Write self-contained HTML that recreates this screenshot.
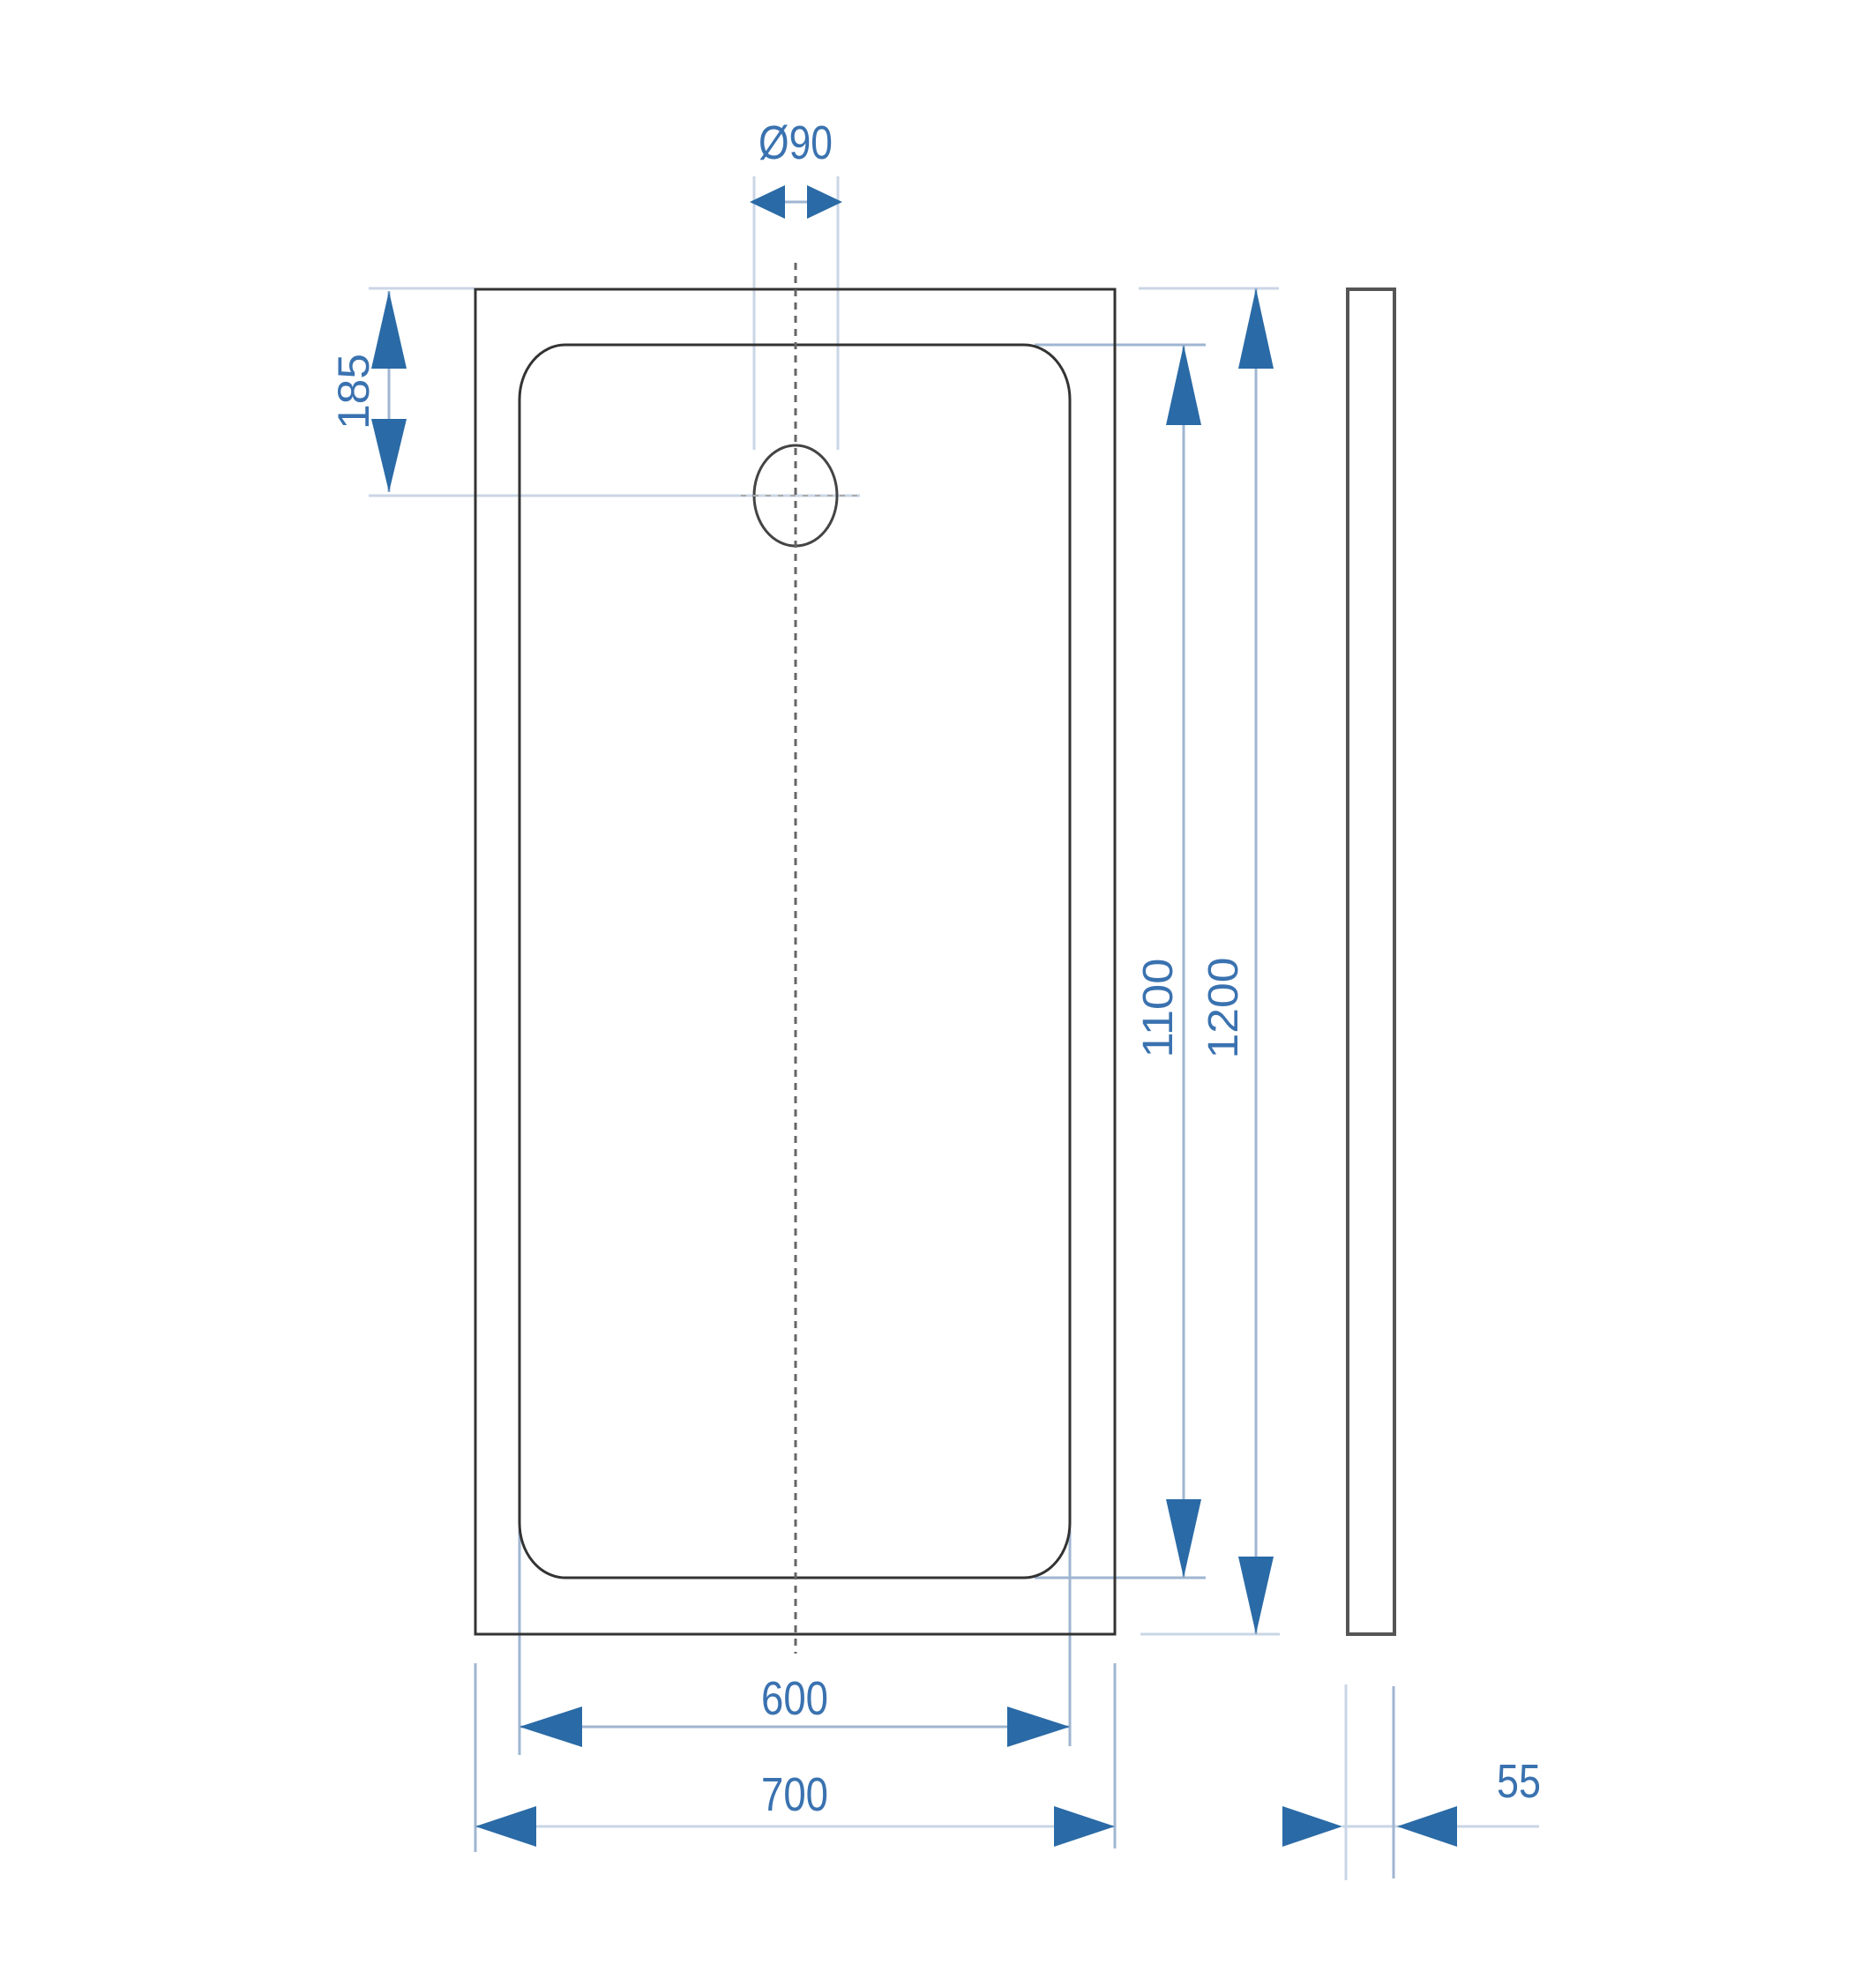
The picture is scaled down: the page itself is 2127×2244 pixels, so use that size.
<!DOCTYPE html>
<html><head><meta charset="utf-8"><style>html,body{margin:0;padding:0;background:#fff}svg{display:block}</style></head>
<body>
<svg width="2127" height="2244" viewBox="0 0 2127 2244" xmlns="http://www.w3.org/2000/svg">
<g fill="none">
<g stroke="#c9d6e6" stroke-width="3">
<line x1="418" y1="327" x2="538" y2="327"/>
<line x1="418" y1="562" x2="975" y2="562"/>
<line x1="1291" y1="327" x2="1450" y2="327"/>
<line x1="1293" y1="1853" x2="1451" y2="1853"/>
<line x1="855" y1="200" x2="855" y2="510"/>
<line x1="950" y1="200" x2="950" y2="510"/>
<line x1="1526" y1="1910" x2="1526" y2="2132"/>
<line x1="1522" y1="2071" x2="1745" y2="2071"/>
<line x1="538" y1="2071" x2="1262" y2="2071"/>
</g>
<g stroke="#9fb6d1" stroke-width="3">
<line x1="1173" y1="391" x2="1367" y2="391"/>
<line x1="1173" y1="1789" x2="1367" y2="1789"/>
<line x1="589" y1="1735" x2="589" y2="1990"/>
<line x1="1213" y1="1735" x2="1213" y2="1980"/>
<line x1="539" y1="1886" x2="539" y2="2100"/>
<line x1="1264" y1="1886" x2="1264" y2="2096"/>
<line x1="1580" y1="1912" x2="1580" y2="2130"/>
<line x1="1342" y1="391" x2="1342" y2="1789"/>
<line x1="1424" y1="327" x2="1424" y2="1853"/>
<line x1="441" y1="330" x2="441" y2="558"/>
<line x1="589" y1="1958" x2="1213" y2="1958"/>
<line x1="855" y1="229" x2="950" y2="229"/>
</g>
<rect x="539" y="328" width="725" height="1525" stroke="#333" stroke-width="3"/>
<rect x="589" y="391" width="624" height="1398" rx="52" ry="62" stroke="#333" stroke-width="3"/>
<rect x="1528" y="328" width="53" height="1525" stroke="#555" stroke-width="4"/>
<ellipse cx="902" cy="562" rx="47" ry="57" stroke="#444" stroke-width="3"/>
<line x1="902" y1="298" x2="902" y2="1875" stroke="#666" stroke-width="3" stroke-dasharray="8 7"/>
<line x1="840" y1="562" x2="980" y2="562" stroke="#aaa" stroke-width="2" stroke-dasharray="6 8"/>
</g>
<g fill="#2a6aa6">
<polygon points="850,229 890,210 890,248"/>
<polygon points="955,229 915,210 915,248"/>
<polygon points="441,330 421,418 461,418"/>
<polygon points="441,558 421,475 461,475"/>
<polygon points="1342,391 1322,482 1362,482"/>
<polygon points="1342,1789 1322,1700 1362,1700"/>
<polygon points="1424,327 1404,418 1444,418"/>
<polygon points="1424,1853 1404,1765 1444,1765"/>
<polygon points="589,1958 660,1935 660,1981"/>
<polygon points="1213,1958 1142,1935 1142,1981"/>
<polygon points="539,2071 608,2048 608,2094"/>
<polygon points="1264,2071 1195,2048 1195,2094"/>
<polygon points="1522,2071 1454,2048 1454,2094"/>
<polygon points="1584,2071 1652,2048 1652,2094"/>
</g>
<g fill="#3a72b0" font-family="Liberation Sans, sans-serif" font-size="54" text-anchor="middle">
<text x="902" y="180" textLength="84" lengthAdjust="spacingAndGlyphs">Ø90</text>
<text x="901" y="1944" textLength="76" lengthAdjust="spacingAndGlyphs">600</text>
<text x="901" y="2053" textLength="76" lengthAdjust="spacingAndGlyphs">700</text>
<text x="1722" y="2038" textLength="50" lengthAdjust="spacingAndGlyphs">55</text>
<text transform="translate(418,444) rotate(-90)" textLength="86" lengthAdjust="spacingAndGlyphs" font-size="50">185</text>
<text transform="translate(1329,1143) rotate(-90)" textLength="113" lengthAdjust="spacingAndGlyphs" font-size="48">1100</text>
<text transform="translate(1403,1143) rotate(-90)" textLength="115" lengthAdjust="spacingAndGlyphs" font-size="48">1200</text>
</g>
</svg>
</body></html>
